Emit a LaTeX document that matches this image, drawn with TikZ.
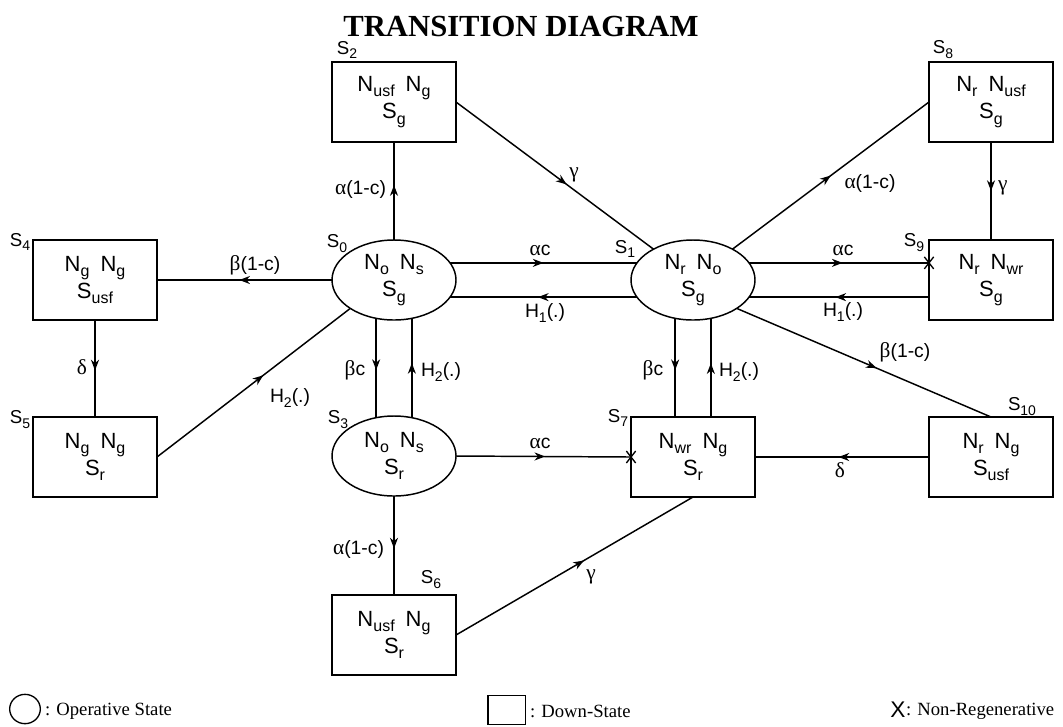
\documentclass[tikz,border=0pt]{standalone}
\usepackage{fontspec}
\setmainfont{Liberation Serif}
\newfontfamily\sansf{Liberation Sans}
\usetikzlibrary{shapes.geometric,shapes.misc,arrows.meta,decorations.markings,calc}
\newcommand\grk[1]{{\rmfamily\fontsize{16}{16}\selectfont #1}}
\newcommand\gap{\hspace{0.5em}}
\newcommand\sbs[1]{\raisebox{-0.45ex}{\fontsize{12}{13}\selectfont #1}}
\newcommand\sbl[1]{\raisebox{-0.5ex}{\fontsize{10.5}{12}\selectfont #1}}
\begin{document}
\begin{tikzpicture}[x=0.75pt,y=-0.75pt,
  every node/.style={inner sep=0pt, outer sep=0pt},
  state/.style={draw, line width=1.1pt, minimum width=93pt, minimum height=60pt, align=center, font=\sansf\fontsize{16.5}{20.5}\selectfont},
  boxst/.style={state, rectangle},
  ovalst/.style={state, ellipse},
  conn/.style={line width=1.1pt},
  mid/.style={postaction={decorate}, decoration={markings, mark=at position #1 with {\arrow{Stealth[length=8pt,width=6pt,inset=2.5pt]}}}},
  elab/.style={font=\sansf\fontsize{14.5}{16}\selectfont},
  slab/.style={font=\sansf\fontsize{14}{16}\selectfont},
  nrx/.style={draw, cross out, line width=1pt, minimum width=7pt, minimum height=9pt},
  legtxt/.style={anchor=west, font=\rmfamily\fontsize{14}{16}\selectfont},
]
\useasboundingbox (0,0) rectangle (1063,726);

% title
\node[font=\rmfamily\bfseries\fontsize{23}{26}\selectfont] (title) at (521,26) {TRANSITION DIAGRAM};

% states
\node[ovalst] (s0) at (394,280) {N\sbs{o}\gap N\sbs{s}\\S\sbs{g}};
\node[ovalst] (s1) at (693,280) {N\sbs{r}\gap N\sbs{o}\\S\sbs{g}};
\node[boxst] (s2) at (394,102) {N\sbs{usf}\gap N\sbs{g}\\S\sbs{g}};
\node[ovalst] (s3) at (394,456) {N\sbs{o}\gap N\sbs{s}\\S\sbs{r}};
\node[boxst] (s4) at (95,280) {N\sbs{g}\gap N\sbs{g}\\S\sbs{usf}};
\node[boxst] (s5) at (95,457) {N\sbs{g}\gap N\sbs{g}\\S\sbs{r}};
\node[boxst] (s6) at (394,635) {N\sbs{usf}\gap N\sbs{g}\\S\sbs{r}};
\node[boxst] (s7) at (693,457) {N\sbs{wr}\gap N\sbs{g}\\S\sbs{r}};
\node[boxst] (s8) at (991,102) {N\sbs{r}\gap N\sbs{usf}\\S\sbs{g}};
\node[boxst] (s9) at (991,280) {N\sbs{r}\gap N\sbs{wr}\\S\sbs{g}};
\node[boxst] (s10) at (991,457) {N\sbs{r}\gap N\sbs{g}\\S\sbs{usf}};

% state labels
\node[slab] (t0) at (337,244) {S\sbl{0}};
\node[slab] (t1) at (625,249) {S\sbl{1}};
\node[slab] (t2) at (347,50) {S\sbl{2}};
\node[slab] (t3) at (338,420) {S\sbl{3}};
\node[slab] (t4) at (20,242) {S\sbl{4}};
\node[slab] (t5) at (20,420) {S\sbl{5}};
\node[slab] (t6) at (431,580) {S\sbl{6}};
\node[slab] (t7) at (618,418) {S\sbl{7}};
\node[slab] (t8) at (943,50) {S\sbl{8}};
\node[slab] (t9) at (914,243) {S\sbl{9}};
\node[slab] (t10) at (1022,407) {S\sbl{10}};

% S0 -> S2
\draw[conn, mid=0.56] (s0.north) -- (s2.south);
\node[elab, anchor=east] (l02) at (386,189) {\grk{α}(1-c)};
% S2 -> S1
\draw[conn, mid=0.56] (s2.east) -- (s1.142);
\node[elab] (l21) at (574,175) {\grk{γ}};
% S1 -> S8
\draw[conn, mid=0.5] (s1.38) -- (s8.west);
\node[elab] (l18) at (870,183) {\grk{α}(1-c)};
% S8 -> S9
\draw[conn, mid=0.5] (s8.south) -- (s9.north);
\node[elab, anchor=west] (l89) at (998,188) {\grk{γ}};
% S0 <-> S1
\draw[conn, mid=0.5] (s0.17) -- (s1.163);
\node[elab] (l01) at (540,250) {\grk{α}c};
\draw[conn, mid=0.53] (s1.-163) -- (s0.-17);
\node[elab] (l10) at (545,313) {H\sbl{1}(.)};
% S1 <-> S9
\coordinate (x9) at (s1.17 -| s9.west);
\draw[conn, mid=0.52] (s1.17) -- (x9);
\node[nrx] (c9) at (x9) {};
\node[elab] (l19) at (843,250) {\grk{α}c};
\coordinate (y9) at (s1.-17 -| s9.west);
\draw[conn, mid=0.52] (y9) -- (s1.-17);
\node[elab] (l91) at (843,312) {H\sbl{1}(.)};
% S0 -> S4
\draw[conn, mid=0.53] (s0.west) -- (s4.east);
\node[elab] (l04) at (255,265) {\grk{β}(1-c)};
% S4 -> S5
\draw[conn, mid=0.52] (s4.south) -- (s5.north);
\node[elab] (l45) at (82,367) {\grk{δ}};
% S5 -> S0
\draw[conn, mid=0.55] (s5.east) -- (s0.213);
\node[elab] (l50) at (290,398) {H\sbl{2}(.)};
% S0 <-> S3
\draw[conn, mid=0.52] (s0.-115) -- (s3.115);
\node[elab] (l03) at (355,370) {\grk{β}c};
\draw[conn, mid=0.55] (s3.65) -- (s0.-65);
\node[elab] (l30) at (441,372) {H\sbl{2}(.)};
% S1 <-> S7
\coordinate (a7) at (s1.-115 |- s7.north);
\coordinate (b7) at (s1.-65 |- s7.north);
\draw[conn, mid=0.525] (s1.-115) -- (a7);
\node[elab] (l17) at (653,370) {\grk{β}c};
\draw[conn, mid=0.545] (b7) -- (s1.-65);
\node[elab] (l71) at (739,372) {H\sbl{2}(.)};
% S1 -> S10
\draw[conn, mid=0.55] (s1.-33) -- (s10.north);
\node[elab] (l110) at (905,352) {\grk{β}(1-c)};
% S10 -> S7
\draw[conn, mid=0.52] (s10.west) -- (s7.east);
\node[elab] (l107) at (840,470) {\grk{δ}};
% S3 -> S7
\draw[conn, mid=0.51] (s3.east) -- (s7.west);
\node[nrx] (c7) at (s7.west) {};
\node[elab] (l37) at (540,443) {\grk{α}c};
% S3 -> S6
\draw[conn, mid=0.53] (s3.south) -- (s6.north);
\node[elab, anchor=east] (l36) at (384,549) {\grk{α}(1-c)};
% S6 -> S7
\draw[conn, mid=0.54] (s6.east) -- (s7.south);
\node[elab] (l67) at (591,577) {\grk{γ}};

% legend
\node[draw, line width=1pt, ellipse, minimum width=23pt, minimum height=22pt] (legov) at (25,709) {};
\node[legtxt] (legt1) at (45,711) {: Operative State};
\node[draw, line width=1pt, minimum width=28pt, minimum height=21.4pt] (legsq) at (506.5,710) {};
\node[legtxt] (legt2) at (530,711) {: Down-State};
\node[font=\sansf\fontsize{17}{17}\selectfont] (legx) at (898,710) {X};
\node[legtxt] (legt3) at (906,711) {: Non-Regenerative};
\end{tikzpicture}
\end{document}
